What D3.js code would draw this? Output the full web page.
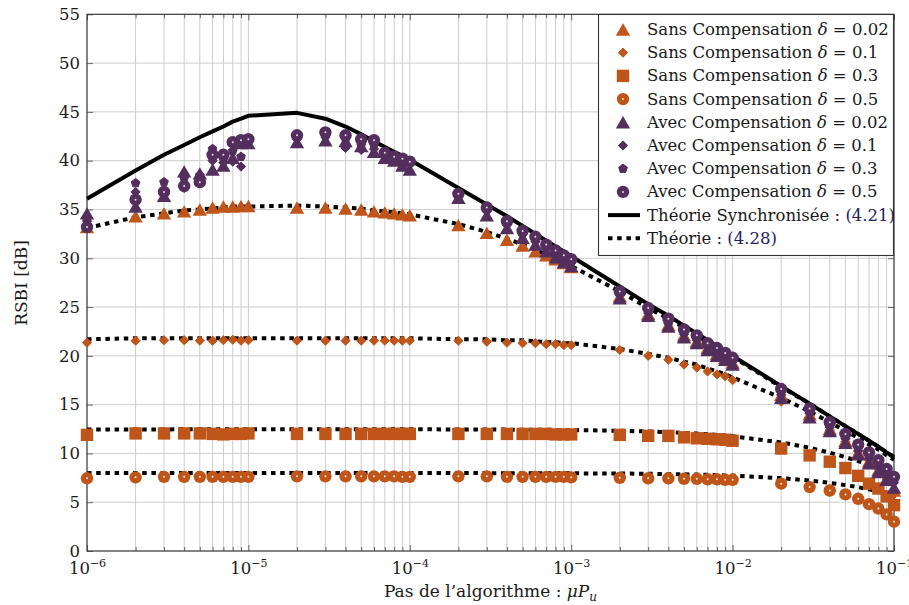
<!DOCTYPE html>
<html><head><meta charset="utf-8">
<script src="https://cdn.jsdelivr.net/npm/d3@7"></script>
<style>
body{margin:0;background:#fff}
svg{display:block}
text{font-family:"DejaVu Serif","Liberation Serif",serif;fill:#1a1a1a}
</style>
</head><body>
<svg id="c" width="909" height="605"></svg>
<script>
// ---- data ----
const mu = [1e-6,2e-6,3e-6,4e-6,5e-6,6e-6,7e-6,8e-6,9e-6,1e-5,
  2e-5,3e-5,4e-5,5e-5,6e-5,7e-5,8e-5,9e-5,1e-4,
  2e-4,3e-4,4e-4,5e-4,6e-4,7e-4,8e-4,9e-4,1e-3,
  2e-3,3e-3,4e-3,5e-3,6e-3,7e-3,8e-3,9e-3,1e-2,
  2e-2,3e-2,4e-2,5e-2,6e-2,7e-2,8e-2,9e-2,1e-1];

const theorySync = [36.1,39.0,40.6,41.6,42.4,43.0,43.5,44.0,44.3,44.6,
  44.9,44.3,43.5,42.7,42.0,41.4,40.9,40.5,40.1,
  37.2,35.5,34.3,33.3,32.5,31.8,31.2,30.7,30.2,
  27.1,25.3,24.1,23.1,22.3,21.6,21.0,20.5,20.0,
  16.9,15.1,13.8,12.8,12.0,11.3,10.7,10.1,9.6];

const theoryD002 = [33.1,34.2,34.6,34.9,35.0,35.1,35.2,35.3,35.3,35.3,
  35.4,35.3,35.2,35.1,34.9,34.8,34.7,34.6,34.5,
  33.5,32.7,32.0,31.4,30.9,30.4,29.9,29.6,29.2,
  26.6,24.9,23.8,22.9,22.1,21.4,20.9,20.4,19.9,
  16.8,15.1,13.8,12.8,12.0,11.3,10.7,10.1,9.6];

const theoryD01 = [21.7,21.8,21.8,21.8,21.8,21.8,21.8,21.8,21.8,21.8,
  21.8,21.8,21.8,21.8,21.8,21.8,21.8,21.8,21.8,
  21.7,21.7,21.6,21.6,21.5,21.4,21.4,21.3,21.3,
  20.7,20.2,19.8,19.4,19.1,18.7,18.4,18.1,17.8,
  15.7,14.3,13.2,12.3,11.6,10.9,10.4,9.8,9.35];

const theoryD03 = [12.45,12.46,12.46,12.47,12.47,12.47,12.47,12.47,12.47,12.47,
  12.47,12.47,12.47,12.47,12.47,12.47,12.47,12.47,12.47,
  12.46,12.45,12.44,12.43,12.43,12.42,12.41,12.41,12.40,
  12.32,12.25,12.18,12.11,12.04,11.97,11.90,11.84,11.76,
  11.13,10.58,10.07,9.62,9.22,8.84,8.48,8.11,7.79];

const theoryD05 = [7.98,7.99,7.99,7.99,7.99,7.99,7.99,7.99,7.99,7.99,
  7.99,7.99,7.99,7.99,7.99,7.99,7.99,7.99,7.99,
  7.99,7.98,7.98,7.98,7.97,7.97,7.97,7.96,7.96,
  7.94,7.91,7.89,7.86,7.83,7.81,7.78,7.75,7.73,
  7.47,7.22,6.98,6.75,6.54,6.33,6.13,5.91,5.71];

const sansD002 = [33.2,34.3,34.6,34.8,35.0,35.2,35.3,35.3,35.35,35.35,
  35.2,35.2,35.1,35.0,34.8,34.7,34.6,34.5,34.4,
  33.4,32.6,31.9,31.3,30.7,30.3,29.9,29.5,29.1,
  26.1,24.3,23.2,22.1,21.5,20.8,20.2,19.8,19.3,
  16.0,14.0,12.5,11.3,10.1,9.2,8.3,7.4,6.2];

const sansD01 = [21.35,21.55,21.6,21.6,21.55,21.55,21.6,21.65,21.55,21.6,
  21.55,21.55,21.55,21.55,21.55,21.55,21.55,21.55,21.55,
  21.55,21.45,21.35,21.3,21.3,21.2,21.2,21.1,21.1,
  20.6,20.0,19.6,19.1,18.8,18.4,18.1,17.9,17.5,
  15.3,13.7,12.4,11.2,10.2,9.3,8.4,7.4,5.8];

const sansD03 = [11.9,12.05,12.05,12.05,12.05,12.0,11.95,12.0,12.0,12.05,
  12.0,12.0,12.0,12.0,12.0,12.0,12.0,12.0,12.0,
  12.0,12.0,12.0,12.0,12.0,12.0,11.95,11.95,11.95,
  11.9,11.8,11.8,11.65,11.55,11.5,11.45,11.4,11.3,
  10.5,9.8,9.15,8.5,7.7,6.9,6.4,5.6,4.7];

const sansD05 = [7.45,7.55,7.6,7.6,7.6,7.6,7.6,7.6,7.6,7.6,
  7.65,7.65,7.65,7.65,7.65,7.65,7.65,7.6,7.6,
  7.65,7.65,7.6,7.6,7.6,7.6,7.6,7.6,7.55,
  7.5,7.45,7.45,7.4,7.4,7.35,7.35,7.3,7.3,
  6.9,6.55,6.2,5.8,5.35,4.8,4.35,3.75,3.0];

const avecD002 = [34.6,35.3,36.4,38.9,38.7,39.1,39.5,40.3,41.8,41.8,
  41.9,42.1,42.0,41.5,40.9,40.3,40.0,39.5,39.1,
  36.2,34.4,33.1,32.1,31.4,30.7,30.1,29.6,29.2,
  25.9,24.1,23.0,21.9,21.3,20.6,20.0,19.6,19.1,
  15.7,13.7,12.3,11.1,9.9,9.0,8.1,7.3,6.5];

const avecD01 = [33.8,36.8,37.0,37.2,38.3,40.0,39.8,39.9,39.4,41.9,
  42.2,42.4,41.3,41.1,41.2,40.4,40.2,39.9,39.6,
  36.4,34.8,33.4,32.4,31.7,31.0,30.4,29.9,29.5,
  26.2,24.4,23.3,22.2,21.6,20.9,20.3,19.9,19.4,
  16.0,14.1,12.7,11.5,10.3,9.5,8.6,7.8,7.0];

const avecD03 = [34.0,37.7,37.8,38.2,38.5,41.2,40.2,41.0,40.4,42.1,
  42.4,42.6,42.2,41.6,41.6,40.5,40.3,40.0,39.8,
  36.5,35.0,33.6,32.6,31.9,31.2,30.5,30.1,29.7,
  26.4,24.6,23.5,22.4,21.8,21.1,20.5,20.1,19.6,
  16.3,14.3,13.0,11.8,10.6,9.8,8.9,8.1,7.3];

const avecD05 = [33.2,36.0,36.8,37.4,37.8,40.6,40.6,41.9,42.1,42.2,
  42.6,42.9,42.6,42.2,42.1,40.8,40.4,40.2,39.9,
  36.6,35.2,33.8,32.8,32.2,31.4,30.8,30.3,29.9,
  26.6,24.9,23.8,22.7,22.1,21.3,20.8,20.3,19.8,
  16.6,14.6,13.2,12.0,10.9,10.1,9.3,8.4,7.6];

const yTicks = [0,5,10,15,20,25,30,35,40,45,50,55];
const xDecades = [1e-6,1e-5,1e-4,1e-3,1e-2,1e-1];
const xDecadeExp = ["−6","−5","−4","−3","−2","−1"];
const deltaLabels = ["0.02","0.1","0.3","0.5"];

// ---- layout ----
const ORANGE = "#BF5519", PURPLE = "#542E5D";
const svg = d3.select("#c");
const L = 87, R = 894, T = 14.3, B = 551;
const x = d3.scaleLog().domain([1e-6,1e-1]).range([L,R]);
const y = d3.scaleLinear().domain([0,55]).range([B,T]);

// grid
const minor = x.ticks();
svg.append("g").selectAll("line").data(minor).join("line")
  .attr("x1",d=>x(d)).attr("x2",d=>x(d)).attr("y1",T).attr("y2",B)
  .attr("stroke","#cdcdcd").attr("stroke-width",1);
svg.append("g").selectAll("line").data(yTicks).join("line")
  .attr("x1",L).attr("x2",R).attr("y1",d=>y(d)).attr("y2",d=>y(d))
  .attr("stroke","#cdcdcd").attr("stroke-width",1);

// axes via d3
const isDecade = d => xDecades.some(v=>Math.abs(v-d)/d<1e-6);
const xb = svg.append("g").attr("transform",`translate(0,${B})`)
  .call(d3.axisBottom(x).tickValues(minor).tickSize(0).tickPadding(12).tickFormat(()=>""));
xb.select(".domain").remove();
xb.selectAll(".tick").each(function(d){
  const g = d3.select(this);
  g.append("line").attr("y1",0).attr("y2",isDecade(d)?-6:-4).attr("stroke","#666");
  g.append("line").attr("y1",T-B).attr("y2",T-B+(isDecade(d)?6:4)).attr("stroke","#666");
  const i = xDecades.findIndex(v=>Math.abs(v-d)/d<1e-6);
  const t = g.select("text").attr("font-size",16.5).attr("fill","#1a1a1a").attr("y",22.5).attr("dy",null);
  if(i>=0){
    t.append("tspan").text("10");
    t.append("tspan").attr("font-size",11).attr("dy",-7).text(xDecadeExp[i]);
  }
});
const yl = svg.append("g").attr("transform",`translate(${L},0)`)
  .call(d3.axisLeft(y).tickValues(yTicks).tickSize(0).tickPadding(7).tickFormat(d3.format("d")));
yl.select(".domain").remove();
yl.selectAll(".tick text").attr("font-size",16.5).attr("fill","#1a1a1a");
yl.selectAll(".tick").append("line").attr("x1",0).attr("x2",6).attr("stroke","#666");
yl.selectAll(".tick").append("line").attr("x1",R-L).attr("x2",R-L-6).attr("stroke","#666");

// frame
svg.append("rect").attr("x",L).attr("y",T).attr("width",R-L).attr("height",B-T)
  .attr("fill","none").attr("stroke","#333").attr("stroke-width",1.1);

// lines
const line = d3.line().x((d,i)=>x(mu[i])).y(d=>y(d));
[theoryD002,theoryD01,theoryD03,theoryD05].forEach(s=>{
  svg.append("path").attr("d",line(s)).attr("fill","none").attr("stroke","#000")
    .attr("stroke-width",4).attr("stroke-dasharray","4.5,4.7");
});
svg.append("path").attr("d",line(theorySync)).attr("fill","none").attr("stroke","#000")
  .attr("stroke-width",4).attr("stroke-linejoin","round");

// markers
function drawMarker(g, type, color){
  if(type==="tri"){
    g.append("path").attr("d","M0,-6.2L7.2,6.2L-7.2,6.2Z").attr("fill",color);
  } else if(type==="sq"){
    g.append("path").attr("d","M-6.2,-6.2h12.4v12.4h-12.4Z").attr("fill",color);
  } else if(type==="circ"){
    g.append("circle").attr("r",6.2).attr("fill",color);
    g.append("circle").attr("r",1).attr("fill","#fff").attr("opacity",0.85);
  } else if(type==="dia"){
    g.append("path").attr("d","M0,-4.6L4.6,0L0,4.6L-4.6,0Z").attr("fill",color)
      .attr("stroke",color).attr("stroke-width",1).attr("stroke-linejoin","round");
  } else if(type==="pent"){
    const r=4.6, pts=d3.range(5).map(k=>{const a=-Math.PI/2+k*2*Math.PI/5;return [r*Math.cos(a),r*Math.sin(a)];});
    g.append("path").attr("d","M"+pts.map(p=>p.join(",")).join("L")+"Z").attr("fill",color)
      .attr("stroke",color).attr("stroke-width",1).attr("stroke-linejoin","round");
  }
}
const seriesList = [
  {data:sansD002, type:"tri", color:ORANGE, label:"Sans", d:0},
  {data:sansD01, type:"dia", color:ORANGE, label:"Sans", d:1},
  {data:sansD03, type:"sq", color:ORANGE, label:"Sans", d:2},
  {data:sansD05, type:"circ", color:ORANGE, label:"Sans", d:3},
  {data:avecD002, type:"tri", color:PURPLE, label:"Avec", d:0},
  {data:avecD01, type:"dia", color:PURPLE, label:"Avec", d:1},
  {data:avecD03, type:"pent", color:PURPLE, label:"Avec", d:2},
  {data:avecD05, type:"circ", color:PURPLE, label:"Avec", d:3}
];
seriesList.forEach(s=>{
  svg.append("g").selectAll("g").data(s.data).join("g")
    .attr("transform",(d,i)=>`translate(${x(mu[i])},${y(d)})`)
    .each(function(){ drawMarker(d3.select(this), s.type, s.color); });
});

// axis labels
svg.append("text").attr("x",(L+R)/2).attr("y",597).attr("text-anchor","middle").attr("font-size",17)
  .call(t=>{
    t.append("tspan").text("Pas de l’algorithme : ");
    t.append("tspan").attr("font-style","italic").text("μP");
    t.append("tspan").attr("font-style","italic").attr("font-size",12).attr("dy",4).text("u");
  });
svg.append("text").attr("transform","translate(27,283) rotate(-90)").attr("text-anchor","middle")
  .attr("font-size",17).text("RSBI [dB]");

// legend
const lg = svg.append("g");
lg.append("rect").attr("x",598.5).attr("y",14.5).attr("width",295).attr("height",241)
  .attr("fill","#fff").attr("stroke","#333").attr("stroke-width",1.1);
const rowY = i => 29.5 + i*23.2;
seriesList.forEach((s,i)=>{
  const g = lg.append("g").attr("transform",`translate(623,${rowY(i)})`);
  drawMarker(g, s.type, s.color);
  const t = lg.append("text").attr("x",647).attr("y",rowY(i)+5.5).attr("font-size",16.5);
  t.append("tspan").text(s.label+" Compensation ");
  t.append("tspan").attr("font-style","italic").text("δ");
  t.append("tspan").text(" = "+deltaLabels[s.d]);
});
lg.append("line").attr("x1",608).attr("x2",640).attr("y1",rowY(8)).attr("y2",rowY(8))
  .attr("stroke","#000").attr("stroke-width",4);
lg.append("line").attr("x1",608).attr("x2",640).attr("y1",rowY(9)).attr("y2",rowY(9))
  .attr("stroke","#000").attr("stroke-width",4).attr("stroke-dasharray","4.5,4.7");
const t8 = lg.append("text").attr("x",647).attr("y",rowY(8)+5.5).attr("font-size",16.5);
t8.append("tspan").text("Théorie Synchronisée : ");
t8.append("tspan").attr("fill","#23235e").text("(4.21)");
const t9 = lg.append("text").attr("x",647).attr("y",rowY(9)+5.5).attr("font-size",16.5);
t9.append("tspan").text("Théorie : ");
t9.append("tspan").attr("fill","#23235e").text("(4.28)");
</script>
</body></html>
